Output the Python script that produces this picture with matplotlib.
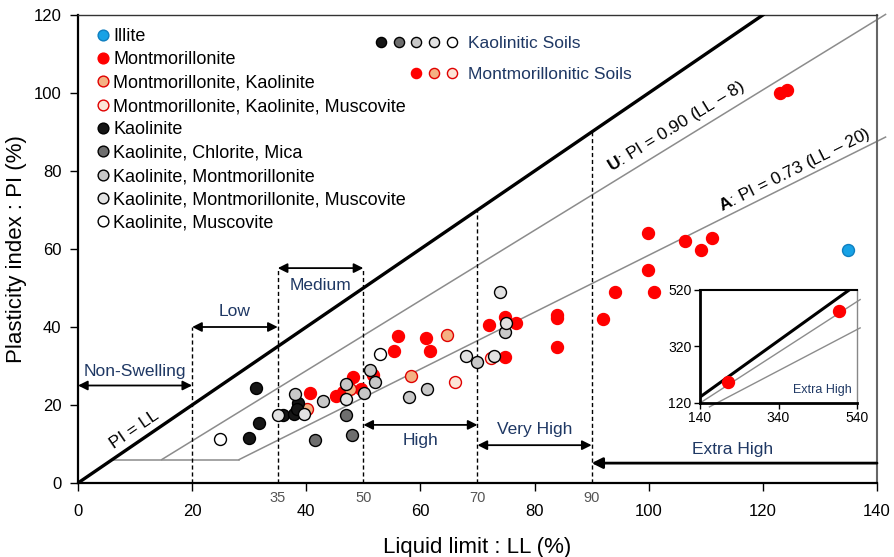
import numpy as np
import matplotlib
matplotlib.use("Agg")
import matplotlib.pyplot as plt
from matplotlib.lines import Line2D
from matplotlib.legend_handler import HandlerTuple

plt.rcParams['font.family'] = ['Liberation Sans', 'DejaVu Sans']
plt.rcParams['mathtext.fontset'] = 'custom'
plt.rcParams['mathtext.rm'] = 'Liberation Sans'
plt.rcParams['mathtext.bf'] = 'Liberation Sans:bold'

# --- data (LL %, PI %) ---
illite_ll = [134.9]
illite_pi = [59.8]

mont_ll = [40.7, 45.2, 48.2, 49.5, 46.5, 51.7, 56.0, 55.3, 60.9, 61.6, 72.0, 74.9,
           76.7, 74.9, 84.0, 84.0, 84.0, 92.0, 94.1, 100.9, 99.9, 99.9, 106.4,
           109.1, 111.1, 123.0, 124.2]
mont_pi = [23.2, 22.4, 27.2, 24.2, 23.4, 27.6, 37.6, 33.9, 37.1, 33.8, 40.6, 42.5,
           41.1, 32.4, 43.1, 42.3, 35.0, 42.0, 48.9, 48.9, 54.6, 64.0, 62.1,
           59.7, 62.9, 99.9, 100.8]

mk_ll = [64.6, 58.4, 47.7, 40.1]
mk_pi = [37.9, 27.5, 24.2, 19.0]

mkm_ll = [66.0, 72.4]
mkm_pi = [25.8, 32.0]

kao_ll = [31.2, 31.7, 29.9, 35.9, 37.8, 38.6, 38.4]
kao_pi = [24.4, 15.4, 11.6, 17.4, 17.7, 20.6, 18.9]

kcm_ll = [41.5, 48.0, 47.0]
kcm_pi = [11.0, 12.3, 17.4]

kmont_ll = [38.1, 43.0, 47.0, 51.1, 52.1, 58.0, 61.1, 69.9, 74.9, 50.1]
kmont_pi = [22.7, 21.0, 25.5, 29.0, 26.0, 22.1, 24.1, 30.9, 38.6, 23.2]

kmm_ll = [35.1, 39.6, 47.0, 68.0, 72.9, 74.0, 75.0]
kmm_pi = [17.4, 17.6, 21.5, 32.6, 32.5, 48.9, 41.0]

kmus_ll = [24.9, 53.0]
kmus_pi = [11.2, 33.0]

# extra-high soils shown in the inset
inset_ll = [212, 495]
inset_pi = [195, 445]

# swelling classes
class_bounds = [0, 20, 35, 50, 70, 90, 140]
class_names = ['Non-Swelling', 'Low', 'Medium', 'High', 'Very High', 'Extra High']
minor_ticks = [35, 50, 70, 90]

navy = '#1F3864'

fig = plt.figure(figsize=(8.94, 5.57), dpi=100)
ax = fig.add_axes([78 / 894, 74 / 557, 799 / 894, 468 / 557])
ax.set_xlim(0, 140)
ax.set_ylim(0, 120)

# reference lines
ll_line = np.array([0, 120])
ax.plot(ll_line, ll_line, color='black', lw=2.4, zorder=3)
ax.plot([6, 28.2], [6, 6], color='#8c8c8c', lw=1.1, zorder=2)
u_x = np.array([8 + 6 / 0.9, 141.5])
ax.plot(u_x, 0.9 * (u_x - 8), color='#8c8c8c', lw=1.1, zorder=2, clip_on=False)
a_x = np.array([20 + 6 / 0.73, 141.5])
ax.plot(a_x, 0.73 * (a_x - 20), color='#8c8c8c', lw=1.1, zorder=2, clip_on=False)

# class boundaries (dashed) and arrows
dash_top = [40, 55, 55, 70, 90]
arrow_y = [25, 40, 55.1, 14.9, 9.7, 5.1]
text_y = [28.6, 43.9, 50.7, 10.8, 13.6, 8.7]
for b, top in zip(class_bounds[1:-1], dash_top):
    ax.plot([b, b], [0, top], color='black', lw=1, ls=(0, (3, 2)), zorder=2)
for i, name in enumerate(class_names):
    x0, x1 = class_bounds[i], class_bounds[i + 1]
    if name == 'Extra High':
        ax.annotate('', xy=(x0, arrow_y[i]), xytext=(x1, arrow_y[i]),
                    arrowprops=dict(arrowstyle='-|>', color='black', lw=2.0,
                                    mutation_scale=16, shrinkA=0, shrinkB=0))
        xc = 114.7
    else:
        ax.annotate('', xy=(x1, arrow_y[i]), xytext=(x0, arrow_y[i]),
                    arrowprops=dict(arrowstyle='<|-|>', color='black', lw=1.3,
                                    mutation_scale=14, shrinkA=0, shrinkB=0))
        xc = (x0 + x1) / 2
    ax.text(xc, text_y[i], name, color=navy, fontsize=12.5, ha='center', va='center')

# data points
ms = 8.6
series = [
    ('Illite', illite_ll, illite_pi, '#17A2E6', '#0F7FC0'),
    ('Montmorillonite', mont_ll, mont_pi, '#FF0000', '#FF0000'),
    ('Montmorillonite, Kaolinite', mk_ll, mk_pi, '#F4B183', '#E00000'),
    ('Montmorillonite, Kaolinite, Muscovite', mkm_ll, mkm_pi, '#FCE4D6', '#E00000'),
    ('Kaolinite', kao_ll, kao_pi, '#161616', '#000000'),
    ('Kaolinite, Chlorite, Mica', kcm_ll, kcm_pi, '#6E6E6E', '#000000'),
    ('Kaolinite, Montmorillonite', kmont_ll, kmont_pi, '#C8C8C8', '#000000'),
    ('Kaolinite, Montmorillonite, Muscovite', kmm_ll, kmm_pi, '#E2E2E2', '#000000'),
    ('Kaolinite, Muscovite', kmus_ll, kmus_pi, 'white', '#000000'),
]
handles = []
for name, xs, ys, fc, ec in series:
    h, = ax.plot(xs, ys, ls='none', marker='o', ms=ms, mfc=fc, mec=ec, mew=1.0,
                 label=name, zorder=4)
    handles.append(h)

leg1 = ax.legend(handles=handles, loc='upper left', bbox_to_anchor=(0.0225, 0.972),
                 frameon=False, fontsize=13, handlelength=0.75, handletextpad=0.2,
                 labelspacing=0.35, borderpad=0, borderaxespad=0, markerscale=0.9)
ax.add_artist(leg1)

blank = Line2D([], [], ls='none', marker='o', alpha=0)
kao_group = tuple(handles[4:9])
mont_group = (blank, blank) + tuple(handles[1:4])
ax.legend([kao_group, mont_group], ['Kaolinitic Soils', 'Montmorillonitic Soils'],
          handler_map={tuple: HandlerTuple(ndivide=None, pad=0)},
          loc='upper left', bbox_to_anchor=(0.368, 0.955), frameon=False,
          fontsize=12.5, labelcolor=navy, handlelength=5.1, handletextpad=0.45,
          labelspacing=0.9, borderpad=0, borderaxespad=0, markerscale=0.85)

# line labels
def angle_of(slope):
    p0 = ax.transData.transform((0, 0))
    p1 = ax.transData.transform((10, 10 * slope))
    return np.degrees(np.arctan2(p1[1] - p0[1], p1[0] - p0[0]))

ax.text(9.8, 13.6, 'PI = LL', fontsize=12.5, rotation=angle_of(1.0),
        rotation_mode='anchor', ha='center', va='center')
ax.text(104.9, 91.4, r'$\mathbf{U}$: PI = 0.90 (LL – 8)', fontsize=12.5,
        rotation=angle_of(0.9), rotation_mode='anchor', ha='center', va='center')
ax.text(125.5, 80.3, r'$\mathbf{A}$: PI = 0.73 (LL – 20)', fontsize=12.5,
        rotation=angle_of(0.73), rotation_mode='anchor', ha='center', va='center')

# axes styling
ax.set_xticks(np.arange(0, 141, 20))
ax.set_yticks(np.arange(0, 121, 20))
ax.set_xticks(minor_ticks, minor=True)
ax.set_xticklabels([str(t) for t in minor_ticks], minor=True)
ax.tick_params(axis='both', which='major', direction='out', length=6, width=1,
               labelsize=12, pad=6)
ax.tick_params(axis='x', which='major', pad=9)
ax.tick_params(axis='x', which='minor', length=0, labelsize=10.5,
               labelcolor='#555555', pad=6)
ax.set_xlabel('Liquid limit : LL (%)', fontsize=16, labelpad=13)
ax.set_ylabel('Plasticity index : PI (%)', fontsize=16, labelpad=5)
ax.spines['left'].set_linewidth(1.6)
ax.spines['bottom'].set_linewidth(1.6)
ax.spines['top'].set_linewidth(1.0)
ax.spines['top'].set_color('#333333')
ax.spines['right'].set_linewidth(1.5)
ax.spines['right'].set_color('#666666')

# inset for the extra high range
ins = fig.add_axes([700 / 894, 154.3 / 557, 157 / 894, 112.7 / 557])
ins.set_xlim(140, 540)
ins.set_ylim(120, 520)
ix = np.array([140, 520])
ins.plot(ix, ix, color='black', lw=2.2, zorder=3)
ux = np.array([140, 548])
ins.plot(ux, 0.9 * (ux - 8), color='#8c8c8c', lw=1, clip_on=False)
axx = np.array([164, 548])
ins.plot(axx, 0.73 * (axx - 20), color='#8c8c8c', lw=1, clip_on=False)
ins.plot(inset_ll, inset_pi, ls='none', marker='o', ms=ms, mfc='#FF0000',
         mec='#FF0000', zorder=4, clip_on=False)
ins.text(451, 165, 'Extra High', color=navy, fontsize=9, ha='center', va='center')
ins.set_xticks([140, 340, 540])
ins.set_yticks([120, 320, 520])
ins.tick_params(direction='out', length=4, width=1, labelsize=10, pad=2)
ins.spines['left'].set_linewidth(2)
ins.spines['bottom'].set_linewidth(2)
ins.spines['top'].set_linewidth(1.5)
ins.spines['right'].set_linewidth(1)
ins.spines['right'].set_color('#888888')

fig.savefig('out.png', dpi=100)
